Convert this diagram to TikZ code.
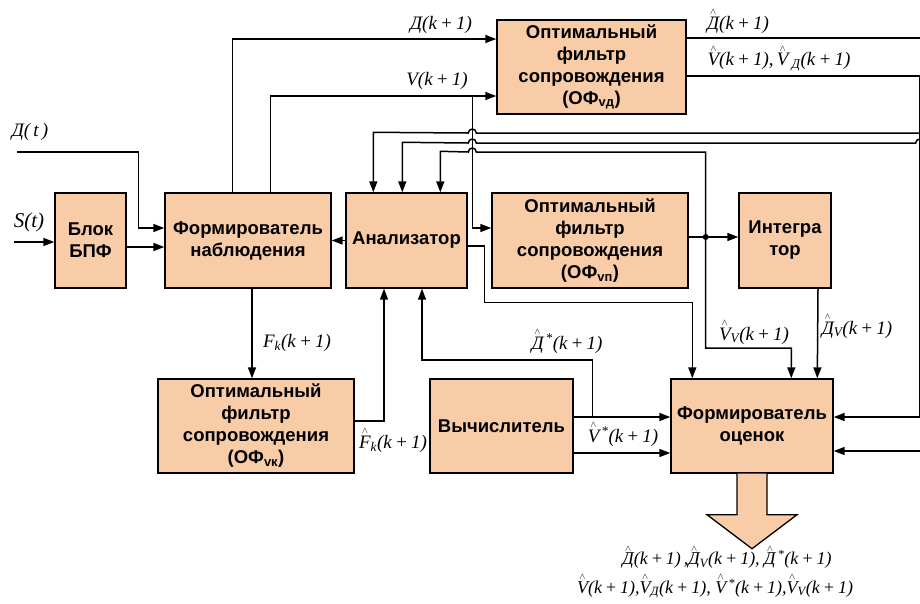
\documentclass[tikz,border=0pt]{standalone}
\usepackage{fontspec}
\setmainfont{Liberation Serif}
\setsansfont{Liberation Sans}
\usetikzlibrary{calc,arrows.meta}
\definecolor{boxfill}{RGB}{249,204,168}
\newcommand\hatsym[1]{\ensuremath{\mathop{\hbox{\itshape #1}}\limits^{\scriptscriptstyle\wedge}}}

\begin{document}
\begin{tikzpicture}[x=1pt,y=-1pt,
  blok/.style={draw,rectangle,line width=1.4pt,fill=boxfill,align=center,inner sep=0pt,font=\sffamily\bfseries\fontsize{18.5}{22}\selectfont},
  lbl/.style={inner sep=0pt,font=\itshape\fontsize{19}{21}\selectfont},
  arr/.style={-{Triangle[length=11pt,width=8pt]},line width=1.5pt},
  arrr/.style={{Triangle[length=11pt,width=8pt]}-{Triangle[length=11pt,width=8pt]},line width=1.5pt},
  ln/.style={line width=1.5pt}]
\useasboundingbox (0,0) rectangle (920,603);
\clip (0,0) rectangle (920,603);

\draw node [blok,minimum width=71,minimum height=95] (bpf) at (90.5,240.5) {Блок\\БПФ};
\draw node [blok,minimum width=166,minimum height=95] (fn) at (248,240.5) {Формирователь\\наблюдения};
\draw node [blok,minimum width=121,minimum height=95] (an) at (406.5,240.5) {Анализатор};
\draw node [blok,minimum width=189,minimum height=94] (ofvd) at (591.5,67) {Оптимальный\\фильтр\\сопровождения\\(ОФ\textsubscript{vд})};
\draw node [blok,minimum width=196,minimum height=95] (ofvp) at (590,240.5) {Оптимальный\\фильтр\\сопровождения\\(ОФ\textsubscript{vп})};
\draw node [blok,minimum width=92,minimum height=95] (integ) at (785,240.5) {Интегра\\тор};
\draw node [blok,minimum width=196,minimum height=94] (ofvk) at (256,426) {Оптимальный\\фильтр\\сопровождения\\(ОФ\textsubscript{vк})};
\draw node [blok,minimum width=143,minimum height=94] (vych) at (501.5,426) {Вычислитель};
\draw node [blok,minimum width=162,minimum height=94] (fo) at (752,426) {Формирователь\\оценок};

% inputs
\coordinate (dt) at (17,152);
\draw[arr] (dt) -| ($ (fn.west)+(-26,-12.5) $) -- ($ (fn.west)+(0,-12.5) $);
\coordinate (st) at (14,242);
\draw[arr] (st) -- (st -| bpf.west);
\draw[arr] ($ (bpf.east)+(0,6.5) $) -- ($ (fn.west)+(0,6.5) $);
\draw[arr] (an.west) -- (fn.east);

% to the top filter
\draw[arr] ($ (fn.north west)+(68,0) $) |- ($ (ofvd.west)+(0,-28) $);
\draw[arr] ($ (fn.north west)+(106,0) $) |- ($ (ofvd.west)+(0,29) $);
\coordinate (vbr) at ($ (ofvd.west)+(-24,29) $);
\draw[arr] (vbr) |- ($ (ofvp.west)+(0,-12.5) $);

% outputs of the top filter
\coordinate (redge) at ($ (ofvd.east)+(233,9) $);
\draw[arr] ($ (ofvd.east)+(0,9) $) -- (redge) |- ($ (fo.east)+(0,-9) $);
\draw[arr] ($ (ofvd.east)+(0,-29) $) -- ++(245,0) |- ($ (fo.east)+(0,25) $);

% feedback into the analyser
\coordinate (ha) at ($ (redge)+(0,57) $);
\draw[arr] (ha) -- ($ (vbr |- ha)+(4,0) $) arc[start angle=0,end angle=180,radius=4pt]
  -- ($ (an.north west)+(28,-60) $) -- ($ (an.north west)+(28,0) $);
\draw[arr] ($ (redge)+(12,67) $) -- ($ (redge)+(4,67) $) arc[start angle=0,end angle=180,radius=4pt]
  -- ($ (vbr |- ha)+(4,10) $) arc[start angle=0,end angle=180,radius=4pt]
  -- ($ (an.north west)+(57,-50) $) -- ($ (an.north west)+(57,0) $);
\coordinate (jv) at ($ (ofvp.east)+(17,-3.5) $);
\draw[arrr] ($ (an.north west)+(95,0) $) -- ($ (an.north west)+(95,-41) $)
  -- ($ (vbr)+(-4,56) $) arc[start angle=180,end angle=0,radius=4pt]
  -- ($ (jv)+(0,-85) $) -- ($ (jv)+(0,111) $) -| ($ (fo.north west)+(121,0) $);
\fill (jv) circle (3pt);
\draw[arr] ($ (ofvp.east)+(0,-3.5) $) -- ($ (integ.west)+(0,-3.5) $);
\draw[arr] ($ (integ.south)+(33,0) $) -- ($ (fo.north west)+(147,0) $);
\draw[arr] ($ (an.east)+(0,5.5) $) -- ++(17,0) |- ($ (fo.north west)+(22,-76) $) -- ($ (fo.north west)+(22,0) $);

% lower part
\draw[arr] ($ (fn.south)+(4,0) $) -- ($ (ofvk.north)+(-4,0) $);
\draw[arr] ($ (ofvk.east)+(0,-5) $) -| ($ (an.south)+(-22.5,0) $);
\coordinate (vbr2) at ($ (vych.east)+(19,-9) $);
\draw[arr] ($ (vych.east)+(0,-9) $) -- ($ (fo.west)+(0,-9) $);
\draw[arr] (vbr2) |- ($ (an.south)+(15.5,71.5) $) -- ($ (an.south)+(15.5,0) $);
\draw[arr] ($ (vych.east)+(0,27) $) -- ($ (fo.west)+(0,27) $);

% output arrow
\draw[line width=1.3pt,fill=boxfill] ($ (fo.south)+(-15,0) $) -- ++(0,41) -- ++(-30,0)
  -- ($ (fo.south)+(0,75) $) -- ($ (fo.south)+(45,41) $) -- ++(-30,0) -- ($ (fo.south)+(15,0) $);

% labels
\node[lbl] (ldt) at (30,132) {Д(\,t\,)};
\node[lbl,font=\itshape\fontsize{21}{23}\selectfont] (lst) at (29,222) {S(t)};
\node[lbl] (ldk) at (441,25) {Д(k\,+\,1)};
\node[lbl] (lvk) at (437,81) {V(k\,+\,1)};
\node[lbl] (ldh) at (738,21) {\hatsym{Д}(k\,+\,1)};
\node[lbl] (lvh) at (779,58) {\hatsym{V}(k\,+\,1),\,\hatsym{V}\,\textsubscript{Д}(k\,+\,1)};
\node[lbl] (lfk) at (297,343) {F\textsubscript{k}(k\,+\,1)};
\node[lbl] (lfh) at (393,440) {\hatsym{F}\textsubscript{k}(k\,+\,1)};
\node[lbl] (ldst) at (567,341) {\hatsym{Д}\kern2pt\textsuperscript{*}(k\,+\,1)};
\node[lbl] (lvst) at (623,434) {\hatsym{V}\kern2pt\textsuperscript{*}(k\,+\,1)};
\node[lbl] (lvv) at (754,332) {\hatsym{V}\textsubscript{V}(k\,+\,1)};
\node[lbl] (ldv) at (857,326) {\hatsym{Д}\textsubscript{V}(k\,+\,1)};
\node[lbl,font=\itshape\fontsize{18}{20}\selectfont] (lout1) at (727,557) {\hatsym{Д}(k\,+\,1)\,,\hatsym{Д}\textsubscript{V}(k\,+\,1), \hatsym{Д}\kern2pt\textsuperscript{*}(k\,+\,1)};
\node[lbl,font=\itshape\fontsize{18}{20}\selectfont] (lout2) at (715,586) {\hatsym{V}(k\,+\,1),\hatsym{V}\textsubscript{Д}(k\,+\,1), \hatsym{V}\kern2pt\textsuperscript{*}(k\,+\,1),\hatsym{V}\textsubscript{V}(k\,+\,1)};
\end{tikzpicture}
\end{document}
